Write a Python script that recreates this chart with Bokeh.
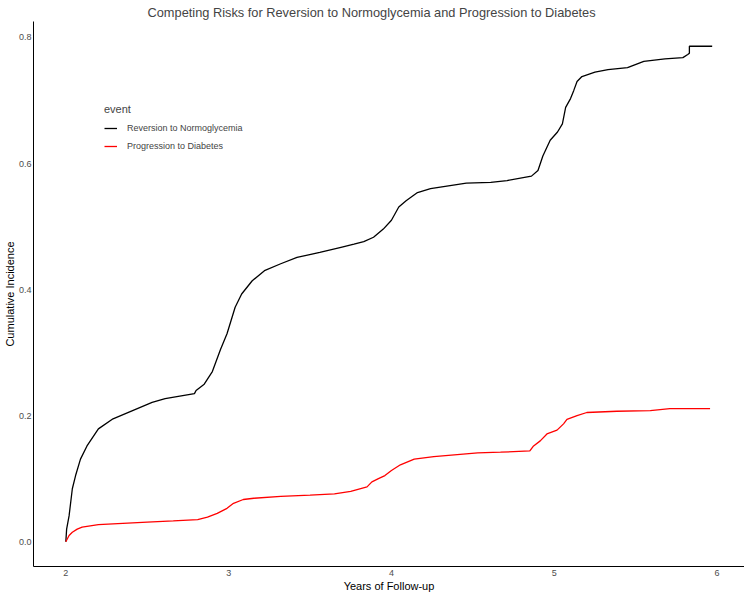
from bokeh.plotting import figure
from bokeh.models import Range1d, Legend, LegendItem
from bokeh.embed import file_html
from bokeh.resources import INLINE

# Reversion to Normoglycemia (years, cumulative incidence)
rev_t = [2.0, 2.005, 2.02, 2.04, 2.06, 2.09, 2.13, 2.20, 2.29, 2.41, 2.53, 2.61,
         2.70, 2.79, 2.80, 2.85, 2.90, 2.95, 2.99, 3.04, 3.08, 3.145,
         3.22, 3.32, 3.42, 3.56, 3.69, 3.77, 3.83, 3.89, 3.95, 4.00, 4.045, 4.09,
         4.16, 4.24, 4.36, 4.46, 4.61, 4.71, 4.86, 4.90, 4.93, 4.975, 5.02, 5.05,
         5.07, 5.10, 5.12, 5.14, 5.17, 5.25, 5.33, 5.45, 5.51, 5.55, 5.68, 5.79,
         5.82, 5.83, 5.83, 5.97]
rev_y = [0.0, 0.02, 0.041, 0.084, 0.105, 0.131, 0.152, 0.179, 0.195, 0.208, 0.221, 0.227,
         0.231, 0.235, 0.240, 0.250, 0.270, 0.305, 0.330, 0.372, 0.393, 0.414,
         0.430, 0.441, 0.451, 0.459, 0.467, 0.472, 0.476, 0.483, 0.496, 0.510, 0.531, 0.541,
         0.554, 0.560, 0.565, 0.569, 0.570, 0.573, 0.580, 0.589, 0.612, 0.637, 0.650, 0.663,
         0.689, 0.703, 0.716, 0.730, 0.738, 0.745, 0.749, 0.752, 0.758, 0.762, 0.766, 0.768,
         0.773, 0.775, 0.786, 0.786]

# Progression to Diabetes
pro_t = [2.0, 2.02, 2.04, 2.07, 2.10, 2.20, 2.35, 2.50, 2.66, 2.81, 2.87, 2.93,
         2.99, 3.03, 3.09, 3.155, 3.32, 3.50, 3.65, 3.75, 3.85, 3.88, 3.92, 3.96,
         4.00, 4.055, 4.14, 4.26, 4.53, 4.67, 4.85, 4.873, 4.914, 4.955, 5.017, 5.057,
         5.078, 5.14, 5.20, 5.385, 5.59, 5.71, 5.957]
pro_y = [0.0, 0.010, 0.015, 0.020, 0.023, 0.027, 0.029, 0.031, 0.033, 0.035, 0.039, 0.045,
         0.053, 0.061, 0.067, 0.069, 0.072, 0.074, 0.076, 0.080, 0.087, 0.095, 0.100, 0.105,
         0.113, 0.122, 0.131, 0.135, 0.141, 0.142, 0.144, 0.152, 0.160, 0.171, 0.177, 0.187,
         0.194, 0.200, 0.205, 0.207, 0.208, 0.211, 0.211]

x_ticks = [2, 3, 4, 5, 6]
y_ticks = [0.0, 0.2, 0.4, 0.6, 0.8]

FONT = "Liberation Sans"

p = figure(width=744, height=594, output_backend="svg", toolbar_location=None,
           x_range=Range1d(1.8015, 6.1685), y_range=Range1d(-0.0393, 0.8253),
           title="Competing Risks for Reversion to Normoglycemia and Progression to Diabetes",
           min_border_left=0, min_border_right=0, min_border_top=0, min_border_bottom=0)

p.title.text_font = FONT
p.title.text_font_size = "12.8px"
p.title.text_font_style = "normal"
p.title.align = "left"
p.title.standoff = 4
p.title.offset = 114

p.xgrid.visible = False
p.ygrid.visible = False
p.outline_line_color = None

for ax in (p.xaxis[0], p.yaxis[0]):
    ax.axis_line_color = "black"
    ax.axis_line_width = 1
    ax.major_tick_line_color = None
    ax.minor_tick_line_color = None
    ax.major_tick_out = 0
    ax.major_tick_in = 0
    ax.minor_tick_out = 0
    ax.minor_tick_in = 0
    ax.major_label_text_font = FONT
    ax.major_label_text_font_size = "9px"
    ax.major_label_text_color = "#4D4D4D"
    ax.axis_label_text_font = FONT
    ax.axis_label_text_font_size = "11px"
    ax.axis_label_text_font_style = "normal"
    ax.axis_label_text_color = "black"

p.xaxis.major_label_standoff = 3
p.xaxis.axis_label_standoff = 1
p.yaxis.major_label_standoff = 2
p.yaxis.axis_label_standoff = 0

p.xaxis.ticker = x_ticks
p.yaxis.ticker = y_ticks
p.xaxis.major_label_overrides = {t: str(t) for t in x_ticks}
p.yaxis.major_label_overrides = {t: f"{t:.1f}" for t in y_ticks}
p.xaxis.axis_label = "Years of Follow-up"
p.yaxis.axis_label = "Cumulative Incidence"

r1 = p.line(rev_t, rev_y, line_color="black", line_width=1.3)
r2 = p.line(pro_t, pro_y, line_color="#FF0000", line_width=1.3)

legend = Legend(items=[LegendItem(label="Reversion to Normoglycemia", renderers=[r1]),
                       LegendItem(label="Progression to Diabetes", renderers=[r2])],
                location=(71, 413), title="event")
legend.title_text_font = FONT
legend.title_text_font_size = "11px"
legend.title_text_font_style = "normal"
legend.title_standoff = 6
legend.label_text_font = FONT
legend.label_text_font_size = "9px"
legend.glyph_width = 13
legend.glyph_height = 14
legend.label_standoff = 10
legend.spacing = 4
legend.padding = 0
legend.margin = 0
legend.background_fill_alpha = 0
legend.border_line_color = None
p.add_layout(legend)

open("out.html", "w").write(file_html(p, INLINE))
